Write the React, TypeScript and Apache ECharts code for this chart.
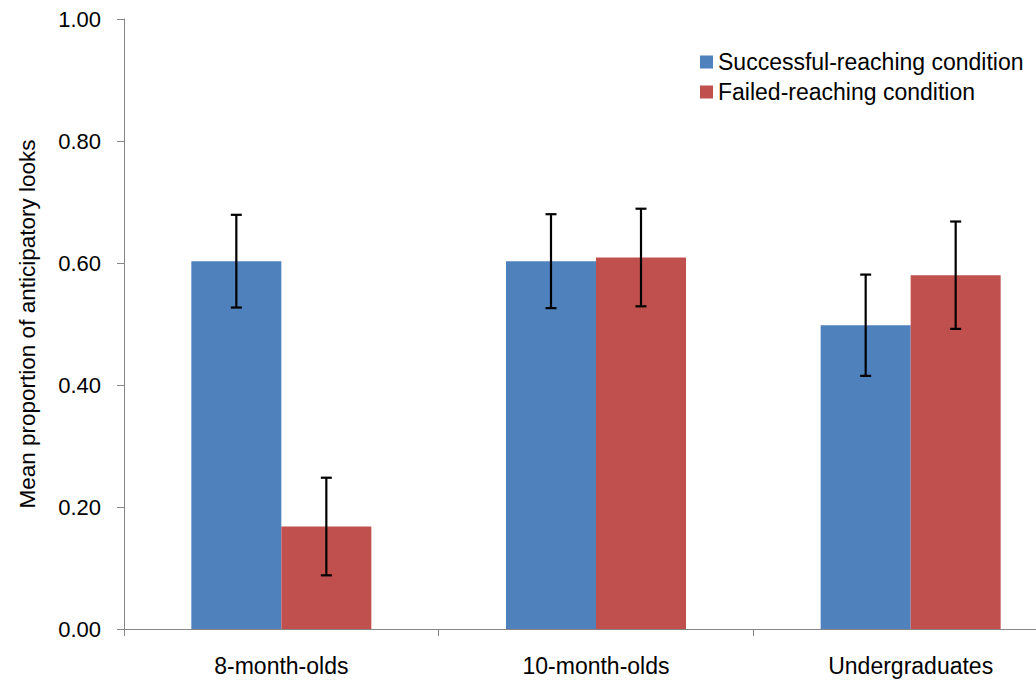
import React, { useEffect, useRef } from "react";
import * as echarts from "echarts";

// Age groups on the x axis
const categories = ["8-month-olds", "10-month-olds", "Undergraduates"];

// Mean proportion of anticipatory looks per condition
const successfulMeans = [0.603, 0.603, 0.498];
const failedMeans = [0.168, 0.609, 0.58];

// Error-bar half-lengths (± around the mean)
const successfulErr = [0.076, 0.077, 0.083];
const failedErr = [0.08, 0.08, 0.088];

// Y-axis ticks
const yMin = 0;
const yMax = 1;
const yStep = 0.2;

const seriesNames = ["Successful-reaching condition", "Failed-reaching condition"];
const colors = ["#4F81BD", "#C0504D"];

const FONT = "'Liberation Sans', Arial, sans-serif";
const BAR_WIDTH = 90;

function errorRows(means: number[], errs: number[]) {
  return means.map((m, i) => [i, m - errs[i], m + errs[i]]);
}

function errorBarRenderer(offset: number) {
  return (_params: any, api: any) => {
    const idx = api.value(0);
    const lo = api.coord([idx, api.value(1)]);
    const hi = api.coord([idx, api.value(2)]);
    const x = lo[0] + offset;
    const cap = 5.5;
    const style = { stroke: "#000", lineWidth: 2.2 };
    return {
      type: "group",
      children: [
        { type: "line", shape: { x1: x, y1: hi[1], x2: x, y2: lo[1] }, style },
        { type: "line", shape: { x1: x - cap, y1: hi[1], x2: x + cap, y2: hi[1] }, style },
        { type: "line", shape: { x1: x - cap, y1: lo[1], x2: x + cap, y2: lo[1] }, style },
      ],
    };
  };
}

export default function App() {
  const ref = useRef<HTMLDivElement>(null);

  useEffect(() => {
    if (!ref.current) return;
    const chart = echarts.init(ref.current, undefined, { renderer: "svg" });
    chart.setOption({
      animation: false,
      backgroundColor: "#fff",
      textStyle: { fontFamily: FONT },
      // the plot runs on past the visible right edge of the frame
      grid: { left: 124, right: 0, top: 19, bottom: 54, containLabel: false },
      legend: {
        data: seriesNames,
        orient: "vertical",
        left: 700,
        top: 50,
        padding: 0,
        itemWidth: 13,
        itemHeight: 13,
        itemGap: 6,
        icon: "rect",
        textStyle: { fontFamily: FONT, fontSize: 23, color: "#000", lineHeight: 24 },
      },
      xAxis: {
        type: "category",
        data: categories,
        boundaryGap: true,
        axisLine: { lineStyle: { color: "#868686", width: 1 } },
        axisTick: { show: true, length: 7, lineStyle: { color: "#868686" } },
        axisLabel: { color: "#000", fontSize: 23, fontFamily: FONT, margin: 25 },
      },
      yAxis: {
        type: "value",
        min: yMin,
        max: yMax,
        interval: yStep,
        name: "Mean proportion of anticipatory looks",
        nameLocation: "middle",
        nameGap: 85,
        nameTextStyle: { color: "#000", fontSize: 22.5, fontFamily: FONT },
        splitLine: { show: false },
        axisLine: { show: true, lineStyle: { color: "#868686", width: 1 } },
        axisTick: { show: true, length: 7, lineStyle: { color: "#868686" } },
        axisLabel: {
          color: "#000",
          fontSize: 22,
          fontFamily: FONT,
          margin: 23,
          formatter: (v: number) => v.toFixed(2),
        },
      },
      series: [
        {
          name: seriesNames[0],
          type: "bar",
          data: successfulMeans,
          barWidth: BAR_WIDTH,
          barGap: "0%",
          itemStyle: { color: colors[0] },
        },
        {
          name: seriesNames[1],
          type: "bar",
          data: failedMeans,
          barWidth: BAR_WIDTH,
          barGap: "0%",
          itemStyle: { color: colors[1] },
        },
        {
          type: "custom",
          name: "successful-err",
          data: errorRows(successfulMeans, successfulErr),
          renderItem: errorBarRenderer(-BAR_WIDTH / 2),
          encode: { x: 0, y: [1, 2] },
          z: 10,
        },
        {
          type: "custom",
          name: "failed-err",
          data: errorRows(failedMeans, failedErr),
          renderItem: errorBarRenderer(BAR_WIDTH / 2),
          encode: { x: 0, y: [1, 2] },
          z: 10,
        },
      ],
    });
    return () => chart.dispose();
  }, []);

  return (
    <div
      style={{
        position: "fixed",
        left: 0,
        top: 0,
        width: 1036,
        height: 683,
        overflow: "hidden",
        background: "#fff",
      }}
    >
      <div ref={ref} style={{ width: 1068, height: 683 }} />
    </div>
  );
}
